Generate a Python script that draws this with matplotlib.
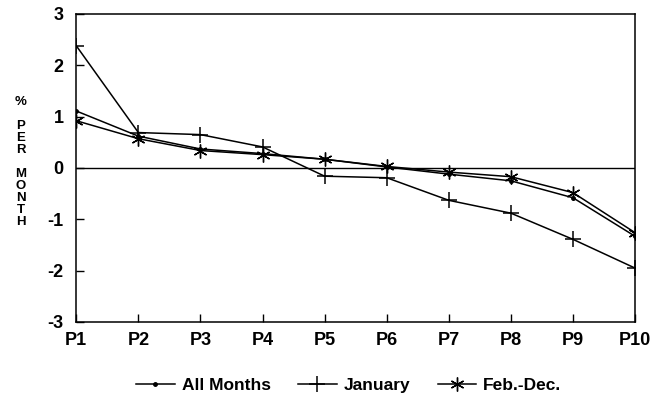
import matplotlib.pyplot as plt

plt.rcParams['font.family'] = ['Liberation Sans', 'DejaVu Sans']
plt.rcParams['font.weight'] = 'bold'

periods = ["P1", "P2", "P3", "P4", "P5", "P6", "P7", "P8", "P9", "P10"]
all_months = [1.11, 0.62, 0.37, 0.28, 0.17, 0.02, -0.12, -0.25, -0.58, -1.33]
january = [2.38, 0.69, 0.65, 0.41, -0.16, -0.19, -0.63, -0.88, -1.39, -1.95]
feb_dec = [0.92, 0.57, 0.34, 0.26, 0.17, 0.03, -0.08, -0.17, -0.48, -1.26]
y_ticks = [-3, -2, -1, 0, 1, 2, 3]

x = list(range(len(periods)))

fig = plt.figure(figsize=(6.52, 3.99), dpi=100)
ax = fig.add_axes([0.117, 0.193, 0.857, 0.772])

ax.plot(x, all_months, color="black", lw=1.1, marker="o", markersize=2.5,
        label="All Months")
ax.plot(x, january, color="black", lw=1.1, marker="+", markersize=11,
        markeredgewidth=1.1, label="January")
ax.plot(x, feb_dec, color="black", lw=1.1, marker=(6, 2, 0), markersize=10,
        markeredgewidth=1.0, label="Feb.-Dec.")

ax.axhline(0, color="black", lw=1.0)

ax.set_xlim(0, len(periods) - 1)
ax.set_ylim(-3, 3)
ax.set_xticks(x)
ax.set_xticklabels(periods)
ax.set_yticks(y_ticks)
ax.set_yticklabels([str(v) for v in y_ticks])
ax.tick_params(direction="in", length=6, width=1, labelsize=13)
ax.tick_params(axis="x", pad=7)
ax.tick_params(axis="y", pad=9)
for lab in ax.get_xticklabels() + ax.get_yticklabels():
    lab.set_fontweight("bold")
for s in ax.spines.values():
    s.set_linewidth(1.1)

# stacked vertical axis label
fig.text(0.032, 0.593, "%\n\nP\nE\nR\n\nM\nO\nN\nT\nH", ha="center", va="center",
         fontsize=9.5, fontweight="bold", linespacing=1.0)

fig.legend(loc="center", bbox_to_anchor=(0.535, 0.035), ncol=3, frameon=False,
           prop={"size": 12.5, "weight": "bold"}, handlelength=2.2,
           columnspacing=1.6, handletextpad=0.4)

fig.savefig("out.png", dpi=100)
